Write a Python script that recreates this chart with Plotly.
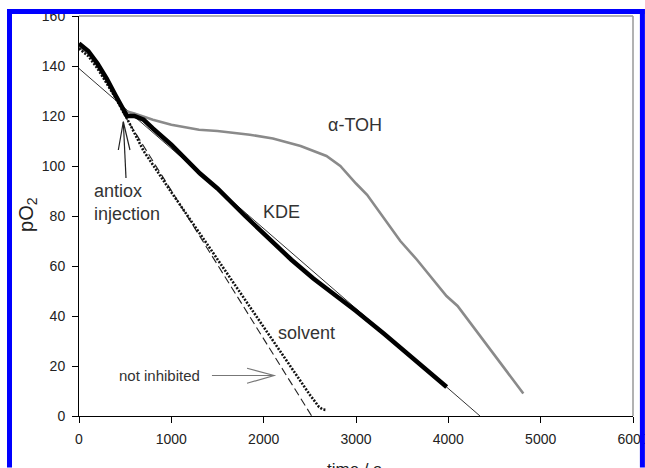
import plotly.graph_objects as go

# ---------------- data ----------------
kde_t = [0, 100, 200, 300, 400, 480, 520, 600, 700, 800, 1000, 1311, 1500, 1800,
         2069, 2300, 2538, 2700, 3000, 3300, 3600, 3982]
kde_p = [149, 146, 141, 135, 128, 122, 120, 120, 118.5, 115, 108.5, 97, 91, 80,
         70.5, 62.5, 55, 50.5, 42, 33, 23.5, 11.6]

toh_t = [0, 100, 200, 300, 400, 500, 600, 800, 1000, 1300, 1500, 1850, 2100, 2400,
         2680, 2830, 3000, 3120, 3480, 3660, 3980, 4100, 4812]
toh_p = [147.5, 145, 140, 134, 127, 122, 121, 118.5, 116.5, 114.5, 114, 112.5, 111, 108,
         104, 100, 93, 88.5, 70, 62.5, 48, 44, 9]

solv_t = [0, 100, 200, 300, 400, 480, 520, 700, 1000, 1383, 1852, 2200, 2500, 2600, 2640, 2680]
solv_p = [147, 144, 139, 133, 127, 121.5, 119, 106, 89.5, 69, 43.5, 24.5, 8.5, 3.6, 2.6, 2.4]

noinh_t = [480, 2520]
noinh_p = [121, 0]

fit_t = [0, 4343]
fit_p = [139, 0]

x_ticks = [0, 1000, 2000, 3000, 4000, 5000, 6000]
y_ticks = [0, 20, 40, 60, 80, 100, 120, 140, 160]

# annotation arrows (data units)
inj_arrow_shaft = [(509, 95.2), (480, 117.7)]
inj_arrow_wings = [(426, 106.4), (480, 117.7), (552, 106.4)]
ni_arrow_shaft = [(1440, 16.2), (2112, 16.2)]
ni_arrow_wings = [(1820, 19.1), (2112, 16.2), (1820, 13.1)]

FONT = "Liberation Sans, Arial, sans-serif"

fig = go.Figure()
fig.add_trace(go.Scatter(x=fit_t, y=fit_p, mode="lines",
                         line=dict(color="#333333", width=1)))
fig.add_trace(go.Scatter(x=toh_t, y=toh_p, mode="lines",
                         line=dict(color="#8a8a8a", width=2.6)))
fig.add_trace(go.Scatter(x=noinh_t, y=noinh_p, mode="lines",
                         line=dict(color="#222222", width=1.1, dash="8px,4px")))
fig.add_trace(go.Scatter(x=solv_t, y=solv_p, mode="lines",
                         line=dict(color="#111111", width=2.6, dash="2px,1.5px")))
fig.add_trace(go.Scatter(x=kde_t, y=kde_p, mode="lines",
                         line=dict(color="#000000", width=4.5)))

def path(pts):
    return "M " + " L ".join(f"{x},{y}" for x, y in pts)

# blue frame, kept strictly inside the 645x468 figure
# plot area: x 79..633 px (554 px), y 16..416 px (400 px)
BL = (9.5 - 79) / 554      # left band centre
BR = (642.4 - 79) / 554    # right band centre
BT = (416 - 11.5) / 400    # top band centre
BB = (416 - 467.5) / 400   # bottom of figure
blue = dict(color="#0000ff", width=5)

shapes = [
    dict(type="path", xref="x", yref="y", path=path(inj_arrow_shaft),
         line=dict(color="#222", width=1.2)),
    dict(type="path", xref="x", yref="y", path=path(inj_arrow_wings),
         line=dict(color="#222", width=1.2)),
    dict(type="path", xref="x", yref="y", path=path(ni_arrow_shaft),
         line=dict(color="#777", width=1.2)),
    dict(type="path", xref="x", yref="y", path=path(ni_arrow_wings),
         line=dict(color="#777", width=1.2)),
    # top/right frame
    dict(type="line", xref="paper", yref="paper", x0=0, x1=1, y0=1, y1=1,
         line=dict(color="#999", width=1.5)),
    dict(type="line", xref="paper", yref="paper", x0=1, x1=1, y0=0, y1=1,
         line=dict(color="#999", width=1.5)),
    # blue outer border (left, top, right)
    dict(type="line", xref="paper", yref="paper", x0=BL, x1=BL, y0=BB, y1=BT + 0.006,
         line=blue, layer="above"),
    dict(type="line", xref="paper", yref="paper", x0=BL - 0.004, x1=BR + 0.004, y0=BT, y1=BT,
         line=blue, layer="above"),
    dict(type="line", xref="paper", yref="paper", x0=BR, x1=BR, y0=BB, y1=BT + 0.006,
         line=blue, layer="above"),
]

ann = [
    dict(x=2989, y=116.4, text="α-TOH", showarrow=False, font=dict(size=18, color="#333")),
    dict(x=2188, y=81.6, text="KDE", showarrow=False, font=dict(size=18, color="#333")),
    dict(x=2469, y=33.2, text="solvent", showarrow=False, font=dict(size=18, color="#333")),
    dict(x=141, y=85.6, text="antiox<br>injection", showarrow=False, xanchor="left",
         align="left", font=dict(size=18, color="#333")),
    dict(x=877, y=16.4, text="not inhibited", showarrow=False, font=dict(size=15, color="#333")),
    dict(xref="paper", yref="paper", x=-0.094, y=0.505, xanchor="center", yanchor="middle",
         text="pO<sub>2</sub>", textangle=-90, showarrow=False,
         font=dict(size=20, color="#222")),
    dict(xref="paper", yref="paper", x=0.498, y=-0.104, xanchor="center", yanchor="top",
         text="time / s", showarrow=False, font=dict(size=17, color="#222")),
]

axis_common = dict(showgrid=False, zeroline=False, showline=True, linecolor="#000",
                   linewidth=1, ticks="outside", ticklen=6, tickcolor="#000",
                   ticklabeloverflow="allow", automargin=False,
                   tickfont=dict(family=FONT, size=14, color="#222"))

fig.update_layout(
    width=645, height=468,
    margin=dict(l=79, r=12, t=16, b=52, pad=0, autoexpand=False),
    paper_bgcolor="white", plot_bgcolor="white",
    showlegend=False,
    font=dict(family=FONT),
    xaxis=dict(range=[0, 6000], tickvals=x_ticks, ticklabelstandoff=4, **axis_common),
    yaxis=dict(range=[0, 160], tickvals=y_ticks, ticklabelstandoff=4, **axis_common),
    shapes=shapes,
    annotations=ann,
)

fig.write_html("out.html")
